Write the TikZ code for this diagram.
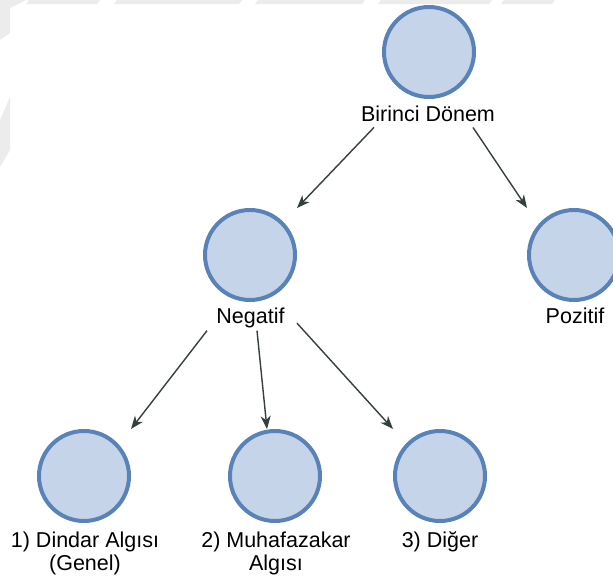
\documentclass[tikz,border=0pt]{standalone}
\usepackage{fontspec}
\setmainfont{Liberation Sans}
\usetikzlibrary{arrows.meta}
\definecolor{nodefill}{RGB}{198,212,234}
\definecolor{nodeline}{RGB}{88,130,184}
\definecolor{arrowcol}{RGB}{52,64,60}
\definecolor{wmark}{RGB}{236,236,236}
\begin{document}
\begin{tikzpicture}[x=1pt,y=-1pt,
  vertex/.style={rectangle, minimum size=94pt, inner sep=0pt, outer sep=0pt,
    path picture={\draw[nodeline, line width=4pt, fill=nodefill]
      (path picture bounding box.center) circle[radius=45pt];}},
  lbl/.style={font=\fontsize{21.5}{23}\selectfont, text=black, inner sep=3pt,
    align=center, anchor=base},
  conn/.style={draw=arrowcol, line width=1.4pt,
    -{Stealth[length=13pt,width=10pt,inset=4pt]}},
  wm/.style={fill=wmark, draw=none}]
% canvas
\fill[white] (0,0) rectangle (613,576);
\useasboundingbox (0,0) rectangle (613,576);
% faint watermark bands
\fill[wm] (29,0) -- (100,0) -- (97,4) -- (26,4) -- cycle;
\fill[wm] (117,0) -- (242,0) -- (239,4) -- (114,4) -- cycle;
\fill[wm] (258,0) -- (365,0) -- (362,4) -- (255,4) -- cycle;
\fill[wm] (381,0) -- (492,0) -- (489,4) -- (378,4) -- cycle;
\fill[wm] (504,0) -- (555,0) -- (552,4) -- (501,4) -- cycle;
\fill[wm] (0,0) -- (26,0) -- (10,8) -- (10,33) -- (0,40) -- cycle;
\fill[wm] (0,120) -- (10,97) -- (10,150) -- (0,167) -- cycle;
% vertices
\node[vertex] (bir) at (429,52) {};
\node[lbl] (lbir) at (428,121) {Birinci Dönem};
\node[vertex] (neg) at (250,255) {};
\node[lbl] (lneg) at (250.5,323) {Negatif};
\node[vertex] (poz) at (574,255) {};
\node[lbl] (lpoz) at (575,323) {Pozitif};
\node[vertex] (d1) at (84,476) {};
\node[lbl] (l1) at (85,570) {1) Dindar Algısı\\(Genel)};
\node[vertex] (d2) at (275,476) {};
\node[lbl] (l2) at (276,570) {2) Muhafazakar\\Algısı};
\node[vertex] (d3) at (440,476) {};
\node[lbl] (l3) at (440,547) {3) Diğer};
% connectors
\draw[conn] ([xshift=-54pt,yshift=-3pt]lbir.south) -- (neg.north east);
\draw[conn] ([xshift=45pt,yshift=-3pt]lbir.south) -- (poz.north west);
\draw[conn] ([xshift=-43.5pt]lneg.south) -- (d1.north east);
\draw[conn] ([xshift=6.5pt]lneg.south) -- ([xshift=-8pt]d2.north);
\draw[conn] ([xshift=46.5pt,yshift=7.5pt]lneg.south) -- (d3.north west);
\end{tikzpicture}
\end{document}
